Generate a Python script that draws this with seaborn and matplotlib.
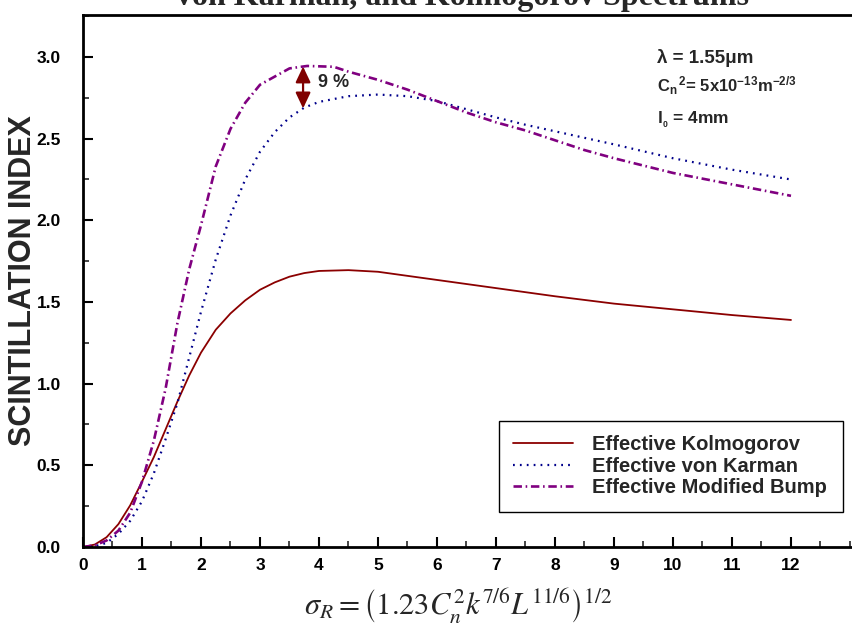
import numpy as np
import pandas as pd
import matplotlib
matplotlib.use("Agg")
import matplotlib.pyplot as plt
from matplotlib.ticker import MultipleLocator, FixedLocator
import seaborn as sns

# Scintillation index vs Rytov standard deviation for three effective spectra
kolmogorov_x = [0, 0.2, 0.4, 0.6, 0.8, 1.0, 1.2, 1.4, 1.6, 1.8, 2.0, 2.25, 2.5, 2.75,
                3.0, 3.25, 3.5, 3.75, 4.0, 4.5, 5.0, 6.0, 7.0, 8.0, 9.0, 10.0, 11.0, 12.0]
kolmogorov_y = [0, 0.015, 0.06, 0.14, 0.255, 0.40, 0.55, 0.72, 0.89, 1.05, 1.19, 1.33, 1.43, 1.51,
                1.575, 1.62, 1.655, 1.677, 1.69, 1.695, 1.685, 1.635, 1.585, 1.535, 1.49, 1.455,
                1.42, 1.39]

karman_x = [0, 0.2, 0.4, 0.6, 0.8, 1.0, 1.2, 1.4, 1.6, 1.8, 2.0, 2.25, 2.5, 2.75, 3.0,
            3.25, 3.5, 3.75, 4.0, 4.5, 5.0, 5.5, 6.0, 6.5, 7.0, 7.5, 8.0, 8.5, 9.0,
            10.0, 11.0, 12.0]
karman_y = [0, 0.005, 0.025, 0.08, 0.16, 0.28, 0.45, 0.66, 0.88, 1.16, 1.44, 1.76, 2.03, 2.25, 2.42,
            2.54, 2.63, 2.69, 2.725, 2.76, 2.77, 2.76, 2.73, 2.68, 2.63, 2.585, 2.545, 2.505, 2.465,
            2.38, 2.31, 2.25]

bump_x = [0, 0.2, 0.4, 0.6, 0.8, 1.0, 1.2, 1.4, 1.6, 1.8, 2.0, 2.25, 2.5, 2.75, 3.0,
          3.5, 3.8, 4.25, 4.5, 5.0, 5.5, 6.0, 6.5, 7.0, 7.5, 8.0, 8.5, 9.0, 9.5, 10.0,
          11.0, 12.0]
bump_y = [0, 0.01, 0.04, 0.10, 0.21, 0.40, 0.65, 0.97, 1.37, 1.70, 1.97, 2.33, 2.56, 2.72, 2.83,
          2.93, 2.945, 2.94, 2.91, 2.86, 2.80, 2.73, 2.66, 2.60, 2.55, 2.49, 2.43, 2.38, 2.335, 2.29,
          2.22, 2.15]

series_labels = ["Effective Kolmogorov", "Effective von Karman", "Effective Modified Bump"]
x_ticks = list(range(0, 13))
y_ticks = [0.0, 0.5, 1.0, 1.5, 2.0, 2.5, 3.0]

sns.set_style("white")
plt.rcParams["font.family"] = ["Liberation Sans", "DejaVu Sans"]
plt.rcParams["mathtext.fontset"] = "custom"
plt.rcParams["mathtext.rm"] = "Liberation Sans:bold"
plt.rcParams["mathtext.it"] = "Liberation Sans:bold"
plt.rcParams["mathtext.bf"] = "Liberation Sans:bold"

W, H = 853, 639
fig = plt.figure(figsize=(W / 100, H / 100), dpi=100)
ax_left, ax_right, ax_top, ax_bottom = 83, 853, 15, 547
ax = fig.add_axes([ax_left / W, (H - ax_bottom) / H,
                   (ax_right - ax_left) / W, (ax_bottom - ax_top) / H])

kol = pd.DataFrame({"x": kolmogorov_x, "y": kolmogorov_y})
kar = pd.DataFrame({"x": karman_x, "y": karman_y})
bmp = pd.DataFrame({"x": bump_x, "y": bump_y})

sns.lineplot(data=kol, x="x", y="y", ax=ax, color="#8b0000", lw=1.3,
             label=series_labels[0])
sns.lineplot(data=kar, x="x", y="y", ax=ax, color="#00008b", lw=1.6,
             linestyle=(0, (0.8, 2.3)), label=series_labels[1])
sns.lineplot(data=bmp, x="x", y="y", ax=ax, color="#800080", lw=1.9,
             linestyle=(0, (3.2, 1.4, 0.6, 1.4)), label=series_labels[2])

ax.set_xlim(0, (ax_right - ax_left) / 59.0)
ax.set_ylim(0, 3.257)
ax.xaxis.set_major_locator(FixedLocator(x_ticks))
ax.xaxis.set_minor_locator(MultipleLocator(0.5))
ax.yaxis.set_major_locator(FixedLocator(y_ticks))
ax.yaxis.set_minor_locator(MultipleLocator(0.25))
ax.set_xticklabels([str(v) for v in x_ticks], fontweight="bold", fontsize=12.5)
ax.set_yticklabels([f"{v:.1f}" for v in y_ticks], fontweight="bold", fontsize=12.5)
ax.tick_params(axis="both", which="major", direction="in", length=7, width=1.5,
               colors="black", bottom=True, left=True, top=False, right=False)
ax.tick_params(axis="both", which="minor", direction="in", length=4, width=1.2,
               bottom=True, left=True, top=False, right=False)
ax.tick_params(axis="x", which="major", pad=8)
ax.tick_params(axis="y", which="major", pad=16)

for side in ["left", "bottom", "top"]:
    ax.spines[side].set_visible(True)
    ax.spines[side].set_linewidth(2.0)
    ax.spines[side].set_color("black")
ax.spines["right"].set_visible(False)

ax.set_xlabel("")
ax.set_ylabel("SCINTILLATION INDEX", fontsize=22, fontweight="bold")
ax.yaxis.set_label_coords((23 - ax_left) / (ax_right - ax_left), 0.5)
ax.yaxis.label.set_va("center")

# 9 % difference marker between the two peaks
arrow_x = 3.73
top_val = float(np.interp(arrow_x, bump_x, bump_y))
low_val = float(np.interp(arrow_x, karman_x, karman_y))
ax.annotate("", xy=(arrow_x, low_val), xytext=(arrow_x, top_val),
            arrowprops=dict(arrowstyle="<|-|>,head_length=0.95,head_width=0.45",
                            color="#800000", lw=1.6, shrinkA=0, shrinkB=0,
                            mutation_scale=10))
ax.text(arrow_x + 0.25, (top_val + low_val) / 2 + 0.03, "9 %", fontsize=13,
        fontweight="bold", va="center", ha="left")

# Parameter block
fig.text(657 / W, 1 - 58 / H, "λ = 1.55μm", fontsize=13.5, fontweight="bold",
         va="center", ha="left")
fig.text(657 / W, 1 - 86 / H, r"C$_n$$^{\,2}$= 5x10$^{-13}$m$^{-2/3}$", fontsize=12,
         fontweight="bold", va="center", ha="left")
fig.text(657 / W, 1 - 120 / H, r"l$_{_0}$ = 4mm", fontsize=12.5, fontweight="bold",
         va="center", ha="left")

leg = ax.legend(loc="center", bbox_to_anchor=(0.540, 0.056, 0.447, 0.192), mode="expand",
                frameon=True, fancybox=False, edgecolor="black", framealpha=1,
                prop={"weight": "bold", "size": 14.5}, handlelength=2.95,
                handletextpad=0.95, labelspacing=0.12, borderpad=0.72, borderaxespad=0)
leg.get_frame().set_linewidth(1.0)

# Title line (upper line falls outside the canvas)
fig.text(463 / W, 1 - 5 / H, "von Karman, and Kolmogorov Spectrums", fontsize=23,
         fontweight="bold", family=["Liberation Serif", "DejaVu Serif"],
         ha="center", va="baseline")

fig.text(458 / W, 1 - 606 / H,
         r"$\sigma_R = \left(1.23C_n^2k^{7/6}L^{11/6}\right)^{1/2}$",
         fontsize=22, math_fontfamily="stix", ha="center", va="center")

fig.savefig("out.png", dpi=100)
